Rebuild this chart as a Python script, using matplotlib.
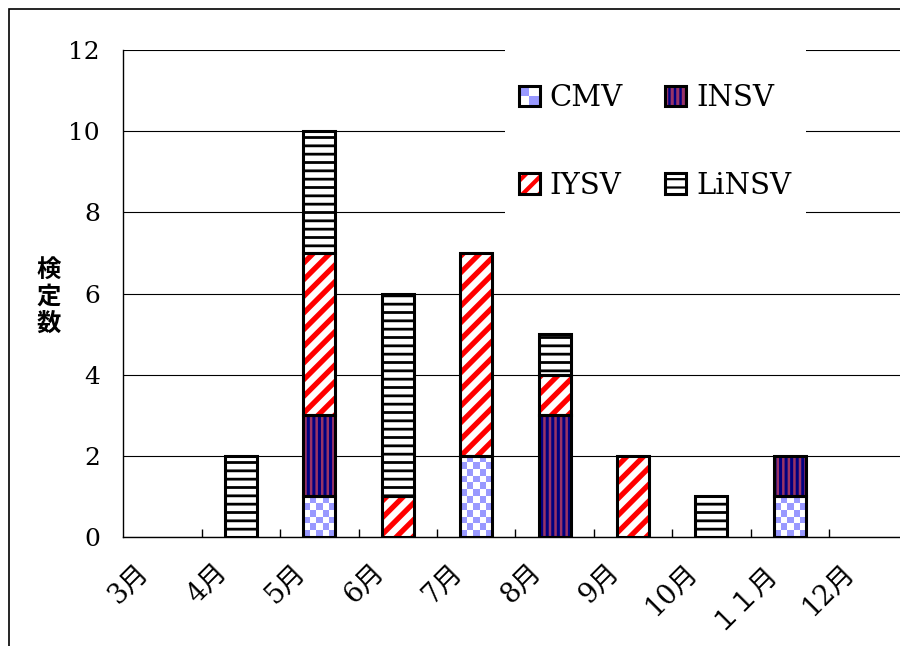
import numpy as np
import matplotlib
matplotlib.use('Agg')
import matplotlib.pyplot as plt
from matplotlib.patches import Rectangle
from matplotlib.colors import ListedColormap
from matplotlib.legend_handler import HandlerBase
from matplotlib.transforms import blended_transform_factory, ScaledTranslation

plt.rcParams['font.family'] = ['DejaVu Serif', 'Noto Sans CJK JP']

# %% data
months = ['3月', '4月', '5月', '6月', '7月', '8月', '9月', '10月', '１１月', '12月']
series = ['CMV', 'INSV', 'IYSV', 'LiNSV']
cmv = [0, 0, 1, 0, 2, 0, 0, 0, 1, 0]
insv = [0, 0, 2, 0, 0, 3, 0, 0, 1, 0]
iysv = [0, 0, 4, 1, 5, 1, 2, 0, 0, 0]
linsv = [0, 2, 3, 5, 0, 1, 0, 1, 0, 0]

# fill styles: base colour, hatch colour, hatch, hatch line width
styles = {
    'CMV':   dict(face='white', hcolor='#9999FF', hatch='checker', hlw=0),
    'INSV':  dict(face='#993366', hcolor='#000080', hatch='|||', hlw=2.2),
    'IYSV':  dict(face='white', hcolor='#FF0000', hatch='//', hlw=3.8),
    'LiNSV': dict(face='white', hcolor='black', hatch='--', hlw=2.0),
}

bar_w = 0.41
x = np.arange(len(months))

# %% figure
fig = plt.figure(figsize=(9, 6.46), dpi=100)
ax = fig.add_axes([123.4 / 900, 1 - 537 / 646, 784 / 900, 487 / 646])
ax.set_axisbelow(True)

px_x = 784 / len(months)   # pixels per category
px_y = 487 / 12            # pixels per count


def set_hlw(p, lw):
    if hasattr(p, 'set_hatch_linewidth'):
        p.set_hatch_linewidth(lw)
    else:
        plt.rcParams['hatch.linewidth'] = lw


bottom = np.zeros(len(months))
for name, vals in zip(series, [cmv, insv, iysv, linsv]):
    vals = np.asarray(vals, dtype=float)
    st = styles[name]
    if st['hatch'] == 'checker':
        fill = ax.bar(x, vals, bar_w, bottom=bottom, facecolor='white', lw=0, zorder=2)
    else:
        fill = ax.bar(x, vals, bar_w, bottom=bottom, facecolor=st['face'],
                      edgecolor=st['hcolor'], hatch=st['hatch'], lw=0, zorder=2)
    outline = ax.bar(x, vals, bar_w, bottom=bottom, fill=False,
                     edgecolor='black', lw=2.2, zorder=4)
    for pf, po, v in zip(fill.patches, outline.patches, vals):
        if v == 0:
            pf.set_visible(False)
            po.set_visible(False)
            continue
        if st['hatch'] == 'checker':
            bx, by = pf.get_x(), pf.get_y()
            bw, bh = pf.get_width(), pf.get_height()
            nc = max(1, int(round(bw * px_x / 7)))
            nr = max(1, int(round(bh * px_y / 7)))
            ii, jj = np.indices((nr, nc))
            ax.imshow((ii + jj) % 2, cmap=ListedColormap(['#9999FF', 'white']),
                      extent=(bx, bx + bw, by, by + bh), aspect='auto',
                      interpolation='nearest', origin='lower', zorder=3)
        else:
            set_hlw(pf, st['hlw'])
    bottom += vals

ax.set_xlim(-0.5, len(months) - 0.5)
ax.set_ylim(0, 12)
ax.set_aspect('auto')

# y axis
ax.set_yticks(np.arange(0, 13, 2))
ax.tick_params(axis='y', length=0, pad=17, labelsize=18)
ax.yaxis.grid(True, color='black', lw=0.8)

# x axis: inward ticks on category borders, labels drawn by hand
ax.set_xticks([])
ax.set_xticks(np.arange(0.5, len(months) - 0.5), minor=True)
ax.tick_params(axis='x', which='minor', direction='in', length=6, width=1)
lab_tr = blended_transform_factory(ax.transData, ax.transAxes) + \
    ScaledTranslation(-0.18, -0.31, fig.dpi_scale_trans)
for xi, m in zip(x, months):
    ax.text(xi, 0, m, transform=lab_tr, rotation=45, rotation_mode='anchor',
            ha='right', va='center', fontsize=19.5)

for s in ['top', 'right']:
    ax.spines[s].set_visible(False)
ax.spines['left'].set_linewidth(1)
ax.spines['bottom'].set_linewidth(1)

# y label, stacked characters
fig.text(49 / 900, 1 - 297 / 646, '検\n定\n数', ha='center', va='center',
         fontsize=17.5, fontweight='bold', family='Noto Sans CJK JP', linespacing=1.15)


# %% legend
class StyledHandler(HandlerBase):
    def __init__(self, st):
        super().__init__()
        self.st = st

    def create_artists(self, legend, orig_handle, xdescent, ydescent,
                       width, height, fontsize, trans):
        x0, y0 = -xdescent, -ydescent
        st = self.st
        arts = []
        if st['hatch'] == 'checker':
            arts.append(Rectangle((x0, y0), width, height, facecolor='white', lw=0))
            arts.append(Rectangle((x0, y0 + height / 2), width / 2, height / 2,
                                  facecolor=st['hcolor'], lw=0))
            arts.append(Rectangle((x0 + width / 2, y0), width / 2, height / 2,
                                  facecolor=st['hcolor'], lw=0))
        else:
            r = Rectangle((x0, y0), width, height, facecolor=st['face'],
                          edgecolor=st['hcolor'], hatch=st['hatch'], lw=0)
            set_hlw(r, st['hlw'] * 0.8)
            arts.append(r)
        arts.append(Rectangle((x0, y0), width, height, fill=False,
                              edgecolor='black', lw=2.2))
        for a in arts:
            a.set_transform(trans)
        return arts


# legend fills column by column, so order entries to read row-wise
order = ['CMV', 'IYSV', 'INSV', 'LiNSV']
proxies = [Rectangle((0, 0), 1, 1) for _ in order]
hmap = {p: StyledHandler(styles[n]) for p, n in zip(proxies, order)}
leg = ax.legend(proxies, order, handler_map=hmap, ncol=2,
                loc='upper left', bbox_to_anchor=(490 / 900, 1 + 9 / 646),
                bbox_transform=fig.transFigure, fontsize=21, frameon=True,
                fancybox=False, edgecolor='none', facecolor='white', framealpha=1,
                borderpad=0.5, labelspacing=2.05, columnspacing=1.45,
                handlelength=0.7, handleheight=0.7, handletextpad=0.35,
                title=' ', title_fontsize=2)
leg.set_zorder(10)

# outer frame
fig.patches.append(Rectangle((8.5 / 900, -1), 2, 1 + (1 - 8.5 / 646), fill=False,
                             edgecolor='black', lw=1.2, transform=fig.transFigure,
                             figure=fig))

fig.savefig('out.png', dpi=100)
